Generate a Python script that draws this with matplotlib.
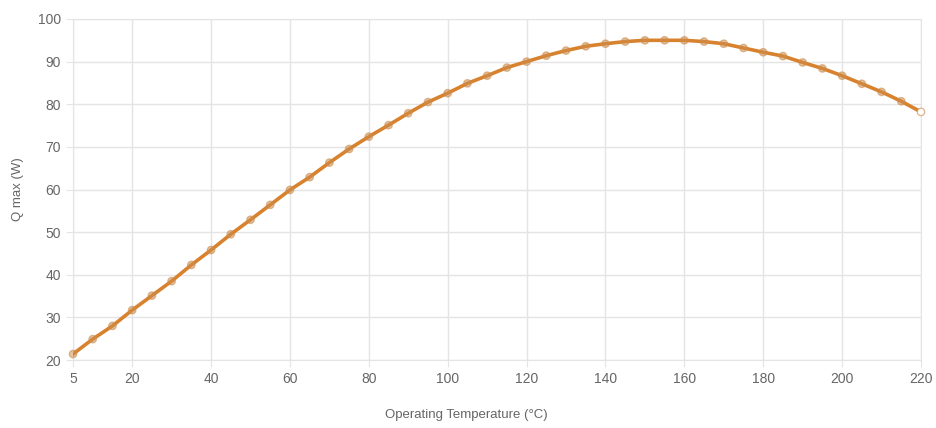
import numpy as np
import matplotlib
matplotlib.use("Agg")
import matplotlib.pyplot as plt

plt.rcParams['font.family'] = ['Liberation Sans', 'DejaVu Sans']

temps = list(range(5, 225, 5))
qmax = [21.4, 24.9, 28.0, 31.7, 35.1, 38.5, 42.3, 45.8, 49.5, 52.9,
        56.4, 59.9, 62.9, 66.3, 69.5, 72.4, 75.1, 77.9, 80.5, 82.6,
        84.9, 86.7, 88.6, 90.0, 91.4, 92.6, 93.6, 94.2, 94.7, 95.0,
        95.0, 95.0, 94.7, 94.2, 93.2, 92.2, 91.3, 89.8, 88.4, 86.7,
        84.8, 82.9, 80.7, 78.2]
xticks = [5, 20, 40, 60, 80, 100, 120, 140, 160, 180, 200, 220]
yticks = [20, 30, 40, 50, 60, 70, 80, 90, 100]

line_col = '#d8822e'
grid_col = '#e4e4e4'
text_col = '#666666'

fig = plt.figure(figsize=(9.37, 4.28), dpi=100)
ax = fig.add_axes([73/937, 1 - 360/428, (921-73)/937, (360-19)/428])

ax.plot(temps, qmax, color=line_col, lw=2.6, zorder=3)
fc = [(0.80, 0.55, 0.30, 0.5)] * (len(temps) - 1) + [(1, 1, 1, 1)]
ax.scatter(temps, qmax, s=28, facecolors=fc, edgecolors=(0.80, 0.55, 0.30, 0.6),
           linewidths=1.0, zorder=4, clip_on=False)

ax.set_xlim(5, 220)
ax.set_ylim(20, 100)
ax.set_xticks(xticks)
ax.set_yticks(yticks)
ax.grid(True, color=grid_col, lw=1)
ax.set_axisbelow(True)
for s in ax.spines.values():
    s.set_color(grid_col)
ax.tick_params(colors=grid_col, length=5, labelcolor=text_col, labelsize=10)

ax.set_xlabel("Operating Temperature (°C)", color=text_col, fontsize=9.5)
ax.xaxis.set_label_coords((466-73)/(921-73), -0.145)
ax.set_ylabel("Q max (W)", color=text_col, fontsize=9.5)
ax.yaxis.set_label_coords(-(73-24)/(921-73), 0.5)

fig.savefig("out.png", dpi=100)
